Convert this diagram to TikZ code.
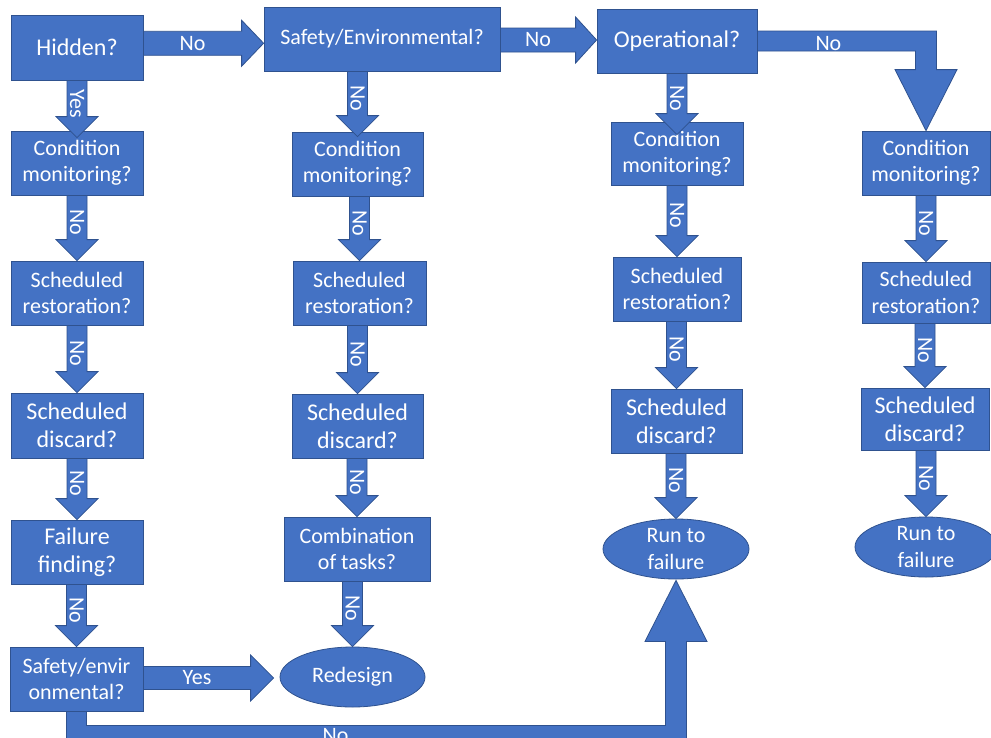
\documentclass[tikz,border=0pt]{standalone}
\usepackage{fontspec}
\setmainfont{Carlito}
\usetikzlibrary{shapes.geometric,calc}
\definecolor{boxblue}{HTML}{4472C4}
\definecolor{edgeblue}{HTML}{2F528F}
\tikzset{
  box/.style={draw=edgeblue, fill=boxblue, line width=0.8pt, inner sep=0pt, text=white, align=center, font=\fontsize{22}{26.4}\selectfont},
  bigtxt/.style={font=\fontsize{24}{28}\selectfont},
  term/.style={ellipse, draw=edgeblue, fill=boxblue, line width=0.8pt, inner sep=0pt},
  ttxt/.style={text=white, align=center, inner sep=0pt, font=\fontsize{22}{26.4}\selectfont},
  blk/.style={draw=edgeblue, fill=boxblue, line width=0.8pt, line join=miter},
  lbl/.style={text=white, inner sep=0pt, font=\fontsize{22}{26.4}\selectfont},
}
% vertical block arrow: [tip overlap]{source}{target}{label}
\newcommand\vblock[4][0]{%
  \path[blk] let \p1=(#2.south), \p2=(#3.north) in
    (\x2-10pt,\y1) -- (\x2-10pt,\y2-#1pt+21pt) -- (\x2-21pt,\y2-#1pt+21pt)
    -- (\x2,\y2-#1pt) -- (\x2+21pt,\y2-#1pt+21pt) -- (\x2+10pt,\y2-#1pt+21pt)
    -- (\x2+10pt,\y1) -- cycle
    node[lbl,rotate=-90] at (\x2,{0.5*\y1+0.5*\y2-0.5*#1pt+5.5pt}) {#4};%
}
% horizontal block arrow: {source}{target}{label}{shaft half}{head half}{head length}{gap}
\newcommand\hblock[7]{%
  \path[blk] let \p1=(#1.east), \p2=(#2.west), \p3=($(#1.east)!0.5!(#2.west)$) in
    (\x1,\y3+#4pt) -- (\x2-#6pt-#7pt,\y3+#4pt) -- (\x2-#6pt-#7pt,\y3+#5pt)
    -- (\x2-#7pt,\y3) -- (\x2-#6pt-#7pt,\y3-#5pt) -- (\x2-#6pt-#7pt,\y3-#4pt)
    -- (\x1,\y3-#4pt) -- cycle
    node[lbl] at ({0.5*\x1+0.5*\x2-0.5*#6pt-0.5*#7pt},\y3) {#3};%
}
\begin{document}
\begin{tikzpicture}[x=1pt,y=-1pt]
\useasboundingbox (0,0) rectangle (991,737);
\clip (0,0) rectangle (991,737);
\fill[white] (0,0) rectangle (991,737);

% column 1
\node[box,bigtxt,minimum width=132pt,minimum height=65pt] (hidden) at (77,47.5) {Hidden?};
\node[box,minimum width=132pt,minimum height=64pt] (cm1) at (77,163) {Condition\\monitoring?};
\node[box,minimum width=132pt,minimum height=64pt] (sr1) at (77,293) {Scheduled\\restoration?};
\node[box,bigtxt,minimum width=132pt,minimum height=65pt] (sd1) at (77,425.5) {Scheduled\\discard?};
\node[box,bigtxt,minimum width=132pt,minimum height=64pt] (ff) at (77,552) {Failure\\finding?};
\node[box,minimum width=133pt,minimum height=64pt] (se) at (76.5,679) {Safety/envir\\onmental?};

% column 2
\node[box,minimum width=236pt,minimum height=64pt] (safety) at (382,39) {Safety/Environmental?};
\node[box,minimum width=131pt,minimum height=64pt] (cm2) at (357.5,164) {Condition\\monitoring?};
\node[box,minimum width=133pt,minimum height=64pt] (sr2) at (359.5,293) {Scheduled\\restoration?};
\node[box,bigtxt,minimum width=131pt,minimum height=64pt] (sd2) at (357.5,426) {Scheduled\\discard?};
\node[box,minimum width=146pt,minimum height=64pt] (comb) at (357,549) {Combination\\of tasks?};
\node[term,minimum width=145pt,minimum height=60pt] (redesign) at (352.5,677) {};
\node[ttxt] at (redesign) {Redesign};

% column 3
\node[box,bigtxt,minimum width=160pt,minimum height=64pt] (op) at (677,41) {Operational?};
\node[box,minimum width=132pt,minimum height=63pt] (cm3) at (677,153.5) {Condition\\monitoring?};
\node[box,minimum width=128pt,minimum height=64pt] (sr3) at (677,289) {Scheduled\\restoration?};
\node[box,bigtxt,minimum width=131pt,minimum height=64pt] (sd3) at (676.5,421) {Scheduled\\discard?};
\node[term,minimum width=146pt,minimum height=60pt] (rtf3) at (676,549) {};
\node[ttxt] at (rtf3) {Run to\\failure};

% column 4
\node[box,minimum width=128pt,minimum height=64pt] (cm4) at (926,163) {Condition\\monitoring?};
\node[box,minimum width=128pt,minimum height=61pt] (sr4) at (926,292.5) {Scheduled\\restoration?};
\node[box,bigtxt,minimum width=128pt,minimum height=62pt] (sd4) at (925,419) {Scheduled\\discard?};
\node[term,minimum width=142pt,minimum height=60pt] (rtf4) at (926,547) {};
\node[ttxt] at (rtf4) {Run to\\failure};

% vertical arrows
\vblock[7]{hidden}{cm1}{Yes}
\vblock{cm1}{sr1}{No}
\vblock{sr1}{sd1}{No}
\vblock{sd1}{ff}{No}
\vblock{ff}{se}{No}
\vblock[5]{safety}{cm2}{No}
\vblock{cm2}{sr2}{No}
\vblock{sr2}{sd2}{No}
\vblock{sd2}{comb}{No}
\vblock{comb}{redesign}{No}
\vblock[13]{op}{cm3}{No}
\vblock{cm3}{sr3}{No}
\vblock{sr3}{sd3}{No}
\vblock{sd3}{rtf3}{No}
\vblock{cm4}{sr4}{No}
\vblock{sr4}{sd4}{No}
\vblock{sd4}{rtf4}{No}

% horizontal arrows
\hblock{hidden}{safety}{No}{12}{23}{22}{0}
\hblock{safety}{op}{No}{12}{23}{21}{0}
\hblock{se}{redesign}{Yes}{11.5}{23}{23}{6}

% bent arrow: Operational -> Condition monitoring (col 4)
\path[blk] let \p1=(op.east), \p2=(cm4.north) in
  (\x1,\y1+10pt) -- (\x2+10.5pt,\y1+10pt) -- (\x2+10.5pt,\y2+61pt) -- (\x2+31pt,\y2+61pt)
  -- (\x2,\y2) -- (\x2-31pt,\y2+61pt) -- (\x2-10.5pt,\y2+61pt) -- (\x2-10.5pt,\y1-10pt)
  -- (\x1,\y1-10pt) -- cycle
  node[lbl] at (\x1+71pt,\y1-3pt) {No};

% bent arrow: Safety/environmental -> Run to failure (col 3)
\path[blk] let \p1=(se.south), \p2=(rtf3.south) in
  (\x1-10pt,\y1) -- (\x1-10pt,\y1-34pt) -- (\x2+10.5pt,\y1-34pt) -- (\x2+10.5pt,\y2-62pt)
  -- (\x2+31pt,\y2-62pt) -- (\x2,\y2-1pt) -- (\x2-31pt,\y2-62pt) -- (\x2-10.5pt,\y2-62pt)
  -- (\x2-10.5pt,\y1-14pt) -- (\x1+10pt,\y1-14pt) -- (\x1+10pt,\y1) -- cycle
  node[lbl] at (\x1+259pt,\y1-24pt) {No};
\end{tikzpicture}
\end{document}
